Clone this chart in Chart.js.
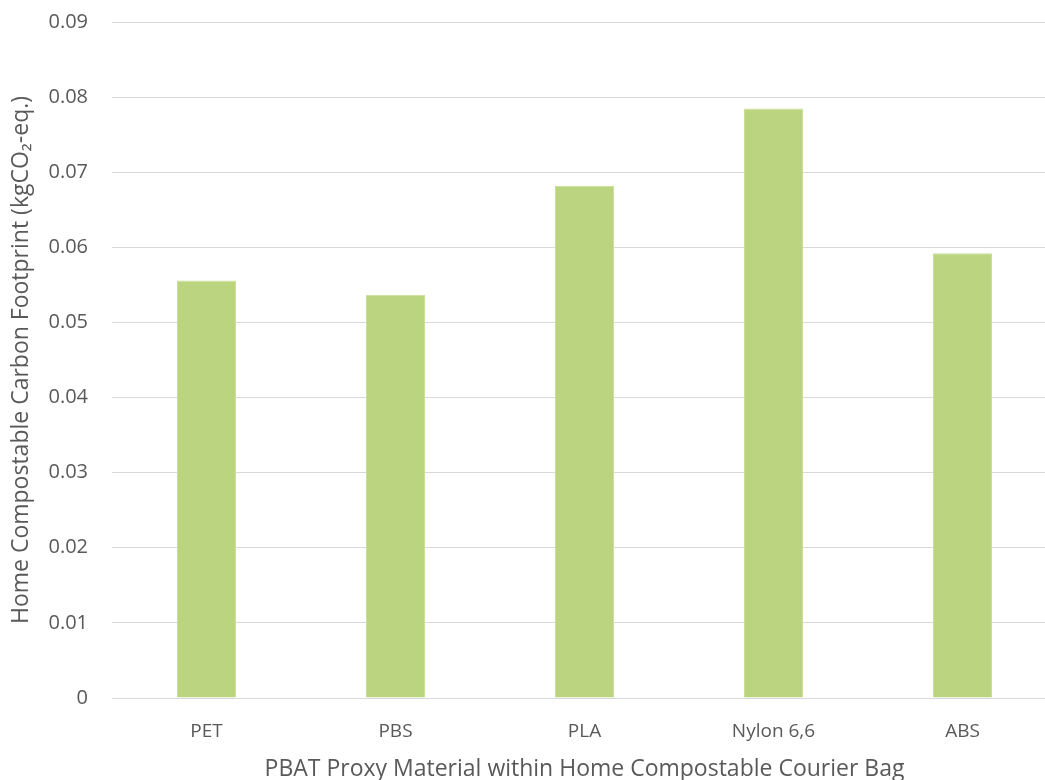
<!DOCTYPE html>
<html>
<head>
<meta charset="utf-8">
<script src="https://cdn.jsdelivr.net/npm/chart.js@4.4.1/dist/chart.umd.min.js"></script>
<style>
  html, body { margin: 0; padding: 0; background: #ffffff; overflow: hidden; }
  #wrap { width: 1045px; height: 780px; overflow: hidden; position: relative; }
  #box { width: 1057px; height: 780px; position: absolute; left: 0; top: 0; }
</style>
</head>
<body>
<div id="wrap"><div id="box"><canvas id="chart" width="1057" height="780"></canvas></div></div>
<script>
// Carbon footprint of the home compostable courier bag, by PBAT proxy material
const materials = ['PET', 'PBS', 'PLA', 'Nylon 6,6', 'ABS'];
const footprint = [0.0556, 0.0537, 0.0682, 0.0785, 0.0592];
const yTicks = [0, 0.01, 0.02, 0.03, 0.04, 0.05, 0.06, 0.07, 0.08, 0.09];

const textGrey = '#595959';
const gridGrey = '#d9d9d9';
const barGreen = '#bbd47f';

new Chart(document.getElementById('chart'), {
  type: 'bar',
  data: {
    labels: materials,
    datasets: [{
      data: footprint,
      backgroundColor: barGreen,
      borderColor: '#c9df97',
      borderWidth: 1,
      barPercentage: 0.312,
      categoryPercentage: 1.0
    }]
  },
  options: {
    responsive: false,
    animation: false,
    devicePixelRatio: 1,
    layout: { padding: { top: 22, left: 8, right: 0, bottom: 0 } },
    plugins: { legend: { display: false }, tooltip: { enabled: false } },
    scales: {
      x: {
        grid: { display: false, drawTicks: false },
        border: { display: true, color: gridGrey, width: 1 },
        ticks: {
          color: textGrey,
          font: { family: 'Open Sans, sans-serif', size: 19 },
          padding: 22
        },
        title: {
          display: true,
          text: 'PBAT Proxy Material within Home Compostable Courier Bag',
          color: textGrey,
          font: { family: 'Open Sans, sans-serif', size: 23 },
          padding: { top: 6, bottom: -3 }
        },
        afterFit: s => { s.height = 82; s.paddingLeft = 0; s.paddingRight = 0; }
      },
      y: {
        min: 0,
        max: 0.09,
        afterBuildTicks: s => { s.ticks = yTicks.map(v => ({ value: v })); },
        grid: { color: gridGrey, lineWidth: 1, drawTicks: false },
        border: { display: false },
        ticks: {
          color: textGrey,
          font: { family: 'Open Sans, sans-serif', size: 20 },
          padding: 24,
          callback: v => String(v)
        },
        title: {
          display: true,
          text: 'Home Compostable Carbon Footprint (kgCO\u2082-eq.)',
          color: textGrey,
          font: { family: 'Open Sans, sans-serif', size: 23 },
          padding: { top: 0, bottom: 6 }
        },
        afterFit: s => { s.width = 104; s.paddingTop = 0; s.paddingBottom = 0; }
      }
    }
  }
});
</script>
</body>
</html>
